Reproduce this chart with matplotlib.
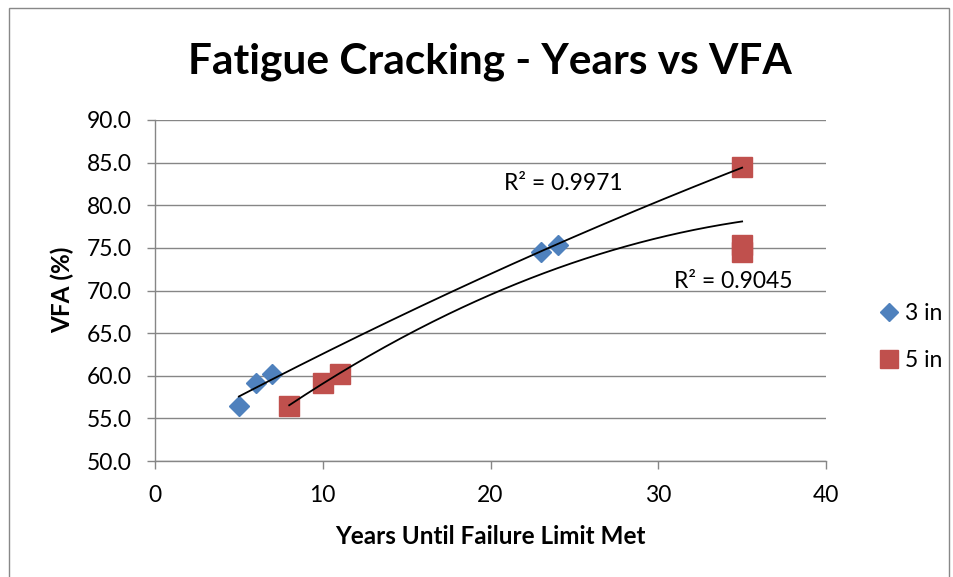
import numpy as np
import matplotlib
matplotlib.use("Agg")
import matplotlib.pyplot as plt
from matplotlib.patches import Rectangle

plt.rcParams['font.family'] = ['Lato', 'DejaVu Sans']

title = "Fatigue Cracking - Years vs VFA"
x_label = "Years Until Failure Limit Met"
y_label = "VFA (%)"

series_names = ["3 in", "5 in"]
years_3in = [5, 6, 7, 23, 24, 35]
vfa_3in = [56.5, 59.2, 60.2, 74.5, 75.3, 84.5]
years_5in = [8, 10, 11, 35, 35, 35]
vfa_5in = [56.5, 59.2, 60.2, 74.5, 75.3, 84.5]

x_ticks = [0, 10, 20, 30, 40]
y_ticks = [50.0, 55.0, 60.0, 65.0, 70.0, 75.0, 80.0, 85.0, 90.0]

blue = "#4F81BD"
red = "#C0504D"
grid_c = "#868686"

fig = plt.figure(figsize=(9.54, 5.77), dpi=100)
# outer chart frame
fig.patches.append(Rectangle((9/954, -0.05), (949-9)/954, 1.05 - 8/577,
                             transform=fig.transFigure, fill=False,
                             edgecolor="#888888", linewidth=1.0))

ax = fig.add_axes([155/954, 1-461/577, (826-155)/954, (461-120)/577])
ax.set_xlim(0, 40)
ax.set_ylim(50, 90)
ax.set_xticks(x_ticks)
ax.set_yticks(y_ticks)
ax.set_yticklabels([f"{v:.1f}" for v in y_ticks])
ax.grid(axis='y', color=grid_c, linewidth=1.0)
ax.set_axisbelow(True)
for s in ['top', 'right']:
    ax.spines[s].set_visible(False)
for s in ['left', 'bottom']:
    ax.spines[s].set_color(grid_c)
    ax.spines[s].set_linewidth(1.0)
ax.tick_params(axis='both', colors=grid_c, labelcolor='black', labelsize=16.5,
               length=6, width=1.0)
ax.tick_params(axis='x', pad=11)
ax.tick_params(axis='y', pad=11)

def fit_line(xs, ys):
    xs = np.asarray(xs, float); ys = np.asarray(ys, float)
    c = np.polyfit(xs, ys, 2)
    xx = np.linspace(xs.min(), xs.max(), 200)
    yy = np.polyval(c, xx)
    return xx, yy

ax.plot(years_3in, vfa_3in, linestyle='none', marker='D', ms=10.5,
        color=blue, label=series_names[0], zorder=3)
ax.plot(years_5in, vfa_5in, linestyle='none', marker='s', ms=14.5,
        color=red, label=series_names[1], zorder=3)

xx1, yy1 = fit_line(years_3in, vfa_3in)
xx2, yy2 = fit_line(years_5in, vfa_5in)
ax.plot(xx1, yy1, color='black', lw=1.3, zorder=4)
ax.plot(xx2, yy2, color='black', lw=1.3, zorder=4)

fig.text(563/954, 1-183/577, "R² = 0.9971",
         ha='center', va='center', fontsize=16.5)
fig.text(733/954, 1-281/577, "R² = 0.9045",
         ha='center', va='center', fontsize=16.5)

ax.set_xlabel(x_label, fontsize=17.5, fontweight='bold')
ax.xaxis.label.set_va('center')
ax.xaxis.set_label_coords((490-155)/671, (461-537)/341)
ax.set_ylabel(y_label, fontsize=17.5, fontweight='bold')
ax.yaxis.label.set_va('center')
ax.yaxis.set_label_coords((62-155)/671, (461-290)/341)

fig.text(490/954, 1-62/577, title, ha='center', va='center',
         fontsize=30.5, fontweight='bold')

leg = fig.legend(loc='center left', bbox_to_anchor=(868/954, 1-337/577),
                 frameon=False, fontsize=16.5, handletextpad=0.2,
                 handlelength=1.0, labelspacing=1.1, borderaxespad=0,
                 markerscale=0.85)

fig.savefig("out.png", dpi=100)
